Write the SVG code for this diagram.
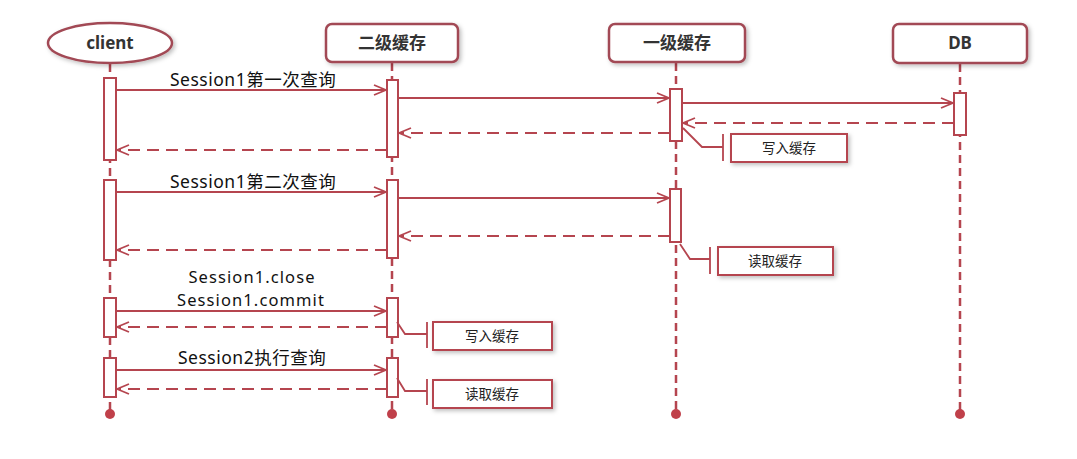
<svg xmlns="http://www.w3.org/2000/svg" width="1077" height="459" viewBox="0 0 1077 459">
<defs>
<filter id="sh" x="-20%" y="-30%" width="140%" height="170%"><feDropShadow dx="2" dy="2" stdDeviation="2" flood-color="#000" flood-opacity="0.25"/></filter>
<marker id="ar" markerWidth="14" markerHeight="12" refX="13" refY="6" orient="auto" markerUnits="userSpaceOnUse"><path d="M1,1 L13,6 L1,11" fill="none" stroke="#b5454f" stroke-width="1.8"/></marker>
</defs>
<style>
.hd{fill:#fff;stroke:#a24a55;stroke-width:2.5}
.ll{stroke:#b5454f;stroke-width:2.5;stroke-dasharray:8 5;fill:none}
.bar{fill:#fff;stroke:#b5454f;stroke-width:2}
.m{stroke:#b5454f;stroke-width:1.8;fill:none;marker-end:url(#ar)}
.r{stroke:#b5454f;stroke-width:1.8;fill:none;stroke-dasharray:12 7;marker-end:url(#ar)}
.nl{stroke:#b5454f;stroke-width:1.8;fill:none}
.nt{fill:#fff;stroke:#b5454f;stroke-width:2}
.ht{font-family:"Noto Sans","Noto Sans CJK SC",sans-serif;font-size:17px;font-weight:bold;fill:#333;text-anchor:middle}
.lb{font-family:"Noto Sans","Noto Sans CJK SC",sans-serif;font-size:17.5px;letter-spacing:0.5px;fill:#111}
.lb2{font-family:"Noto Sans",sans-serif;font-size:16.5px;letter-spacing:1.1px;fill:#111;text-anchor:middle}
.ntx{font-family:"Noto Sans","Noto Sans CJK SC",sans-serif;font-size:13.5px;fill:#222;text-anchor:middle}
.dot{fill:#c0404a}
</style>
<rect width="1077" height="459" fill="#fff"/>
<g id="lifelines">
<line class="ll" x1="110" y1="64" x2="110" y2="412"/>
<line class="ll" x1="392" y1="63" x2="392" y2="412"/>
<line class="ll" x1="676" y1="63" x2="676" y2="412"/>
<line class="ll" x1="960" y1="64" x2="960" y2="412"/>
<circle class="dot" cx="110" cy="414" r="5"/>
<circle class="dot" cx="392" cy="414" r="5"/>
<circle class="dot" cx="676" cy="414" r="5"/>
<circle class="dot" cx="960" cy="414" r="5"/>
</g>
<g id="client">
<ellipse class="hd" cx="110" cy="43" rx="62" ry="20" filter="url(#sh)"/>
<text class="ht" x="110" y="49">client</text>
</g>
<g id="l2cache">
<rect class="hd" x="326" y="24" width="132" height="38" rx="6" filter="url(#sh)"/>
<text class="ht" x="392" y="49">二级缓存</text>
</g>
<g id="l1cache">
<rect class="hd" x="609" y="24" width="136" height="38" rx="6" filter="url(#sh)"/>
<text class="ht" x="677" y="49">一级缓存</text>
</g>
<g id="db">
<rect class="hd" x="893" y="24" width="134" height="39" rx="6" filter="url(#sh)"/>
<text class="ht" x="960" y="49">DB</text>
</g>
<g id="activations">
<rect class="bar" x="104" y="78" width="12" height="82"/>
<rect class="bar" x="104" y="180" width="12" height="80"/>
<rect class="bar" x="104" y="298" width="12" height="39"/>
<rect class="bar" x="104" y="358" width="12" height="39"/>
<rect class="bar" x="387" y="80" width="11" height="77"/>
<rect class="bar" x="387" y="180" width="11" height="78"/>
<rect class="bar" x="387" y="298" width="11" height="39"/>
<rect class="bar" x="387" y="358" width="11" height="39"/>
<rect class="bar" x="670" y="89" width="12" height="52"/>
<rect class="bar" x="670" y="189" width="11" height="53"/>
<rect class="bar" x="954" y="93" width="12" height="42"/>
</g>
<g id="connectors">
<line class="m" x1="116" y1="90" x2="386" y2="90"/>
<line class="m" x1="398" y1="98" x2="669" y2="98"/>
<line class="m" x1="682" y1="103" x2="953" y2="103"/>
<line class="r" x1="954" y1="123" x2="683" y2="123"/>
<line class="r" x1="670" y1="133" x2="399" y2="133"/>
<line class="r" x1="387" y1="150" x2="117" y2="150"/>
<line class="m" x1="116" y1="192" x2="386" y2="192"/>
<line class="m" x1="398" y1="198" x2="669" y2="198"/>
<line class="r" x1="670" y1="236" x2="399" y2="236"/>
<line class="r" x1="387" y1="250" x2="117" y2="250"/>
<line class="m" x1="116" y1="311" x2="386" y2="311"/>
<line class="r" x1="387" y1="327" x2="117" y2="327"/>
<line class="m" x1="116" y1="370" x2="386" y2="370"/>
<line class="r" x1="387" y1="389" x2="117" y2="389"/>
</g>
<g id="labels">
<text class="lb" x="170" y="86">Session1第一次查询</text>
<text class="lb" x="170" y="188">Session1第二次查询</text>
<text class="lb2" x="252" y="283">Session1.close</text>
<text class="lb2" x="251" y="306">Session1.commit</text>
<text class="lb" x="178" y="364">Session2执行查询</text>
</g>
<g id="note1">
<path class="nl" d="M683,128 L702,147 L723,147 M723,134 L723,161"/>
<rect class="nt" x="731" y="134" width="116" height="28" filter="url(#sh)"/>
<text class="ntx" x="789" y="153">写入缓存</text>
</g>
<g id="note2">
<path class="nl" d="M680,244 L690,259 L710,259 M710,247 L710,274"/>
<rect class="nt" x="718" y="247" width="115" height="28" filter="url(#sh)"/>
<text class="ntx" x="775" y="266">读取缓存</text>
</g>
<g id="note3">
<path class="nl" d="M397,322 L405,334 L427,334 M427,322 L427,348"/>
<rect class="nt" x="433" y="322" width="119" height="28" filter="url(#sh)"/>
<text class="ntx" x="492" y="341">写入缓存</text>
</g>
<g id="note4">
<path class="nl" d="M397,378 L405,391 L427,391 M427,379 L427,405"/>
<rect class="nt" x="433" y="380" width="119" height="28" filter="url(#sh)"/>
<text class="ntx" x="492" y="399">读取缓存</text>
</g>
</svg>
